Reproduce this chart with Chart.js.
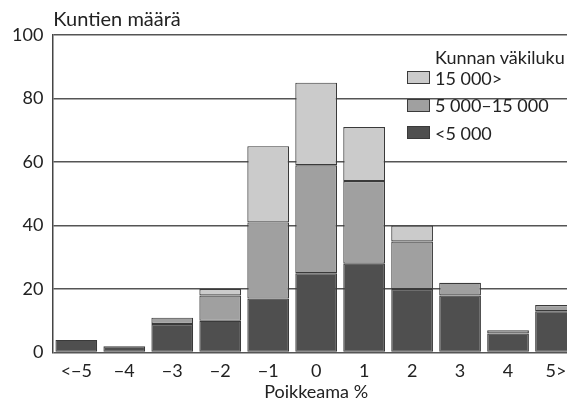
<!DOCTYPE html>
<html>
<head>
<meta charset="utf-8">
<script src="https://cdn.jsdelivr.net/npm/chart.js@4"></script>
<style>
  body { margin: 0; overflow: hidden; background: #fff; font-family: Lato, sans-serif; }
  #wrap { position: relative; width: 580px; height: 402px; }
  #legend { position: absolute; left: 407px; top: 47px; color: #222; font-size: 18px; }
  #legend .title { margin-left: 28px; height: 17px; line-height: 20px; }
  #legend .item { display: flex; align-items: center; height: 27.5px; }
  #legend .box { width: 21px; height: 11px; border: 1px solid #3a3a3a; margin-right: 5px; }
</style>
</head>
<body>
<div id="wrap">
  <canvas id="myChart"></canvas>
  <div id="legend"></div>
</div>
<script>
const categories = ['<\u22125', '\u22124', '\u22123', '\u22122', '\u22121', '0', '1', '2', '3', '4', '5>'];
const under5000 = [4, 2, 9, 10, 17, 25, 28, 20, 18, 6, 13];
const from5000to15000 = [0, 0, 2, 8, 24, 34, 26, 15, 4, 1, 2];
const over15000 = [0, 0, 0, 2, 24, 26, 17, 5, 0, 0, 0];
const yTicks = [0, 20, 40, 60, 80, 100];

const seriesNames = ['<5 000', '5 000\u201315 000', '15 000>'];
const seriesColors = ['#4f4f4f', '#a0a0a0', '#cbcbcb'];

const ink = '#222222';
const font = { family: 'Lato', size: 18 };

// y axis caption drawn above the plot, left aligned to the axis
const yCaption = {
    id: 'yCaption',
    afterDraw(chart) {
        const c = chart.ctx;
        c.save();
        c.fillStyle = ink;
        c.font = '20px Lato';
        c.textBaseline = 'alphabetic';
        c.fillText('Kuntien m\u00e4\u00e4r\u00e4', chart.chartArea.left + 1, chart.chartArea.top - 9);
        c.restore();
    }
};

const datasets = [under5000, from5000to15000, over15000].map((values, i) => ({
    label: seriesNames[i],
    data: values,
    backgroundColor: seriesColors[i],
    borderColor: '#3a3a3a',
    borderWidth: 1.2,
    borderSkipped: false,
    categoryPercentage: 1,
    barPercentage: 0.87
}));

new Chart(document.getElementById('myChart'), {
    type: 'bar',
    data: { labels: categories, datasets: datasets },
    options: {
        responsive: true,
        maintainAspectRatio: false,
        animation: false,
        layout: { padding: { top: 35, left: 3, right: 0, bottom: 0 } },
        plugins: {
            legend: { display: false },
            tooltip: { enabled: false }
        },
        scales: {
            x: {
                stacked: true,
                grid: { display: false },
                border: { display: false },
                ticks: { color: ink, font: font, padding: 0, maxRotation: 0 },
                title: { display: true, text: 'Poikkeama %', color: ink, font: { family: 'Lato', size: 18, lineHeight: 1.1 }, padding: { top: 0, bottom: 0 } }
            },
            y: {
                stacked: true,
                min: 0,
                max: 100,
                afterBuildTicks(scale) { scale.ticks = yTicks.map(v => ({ value: v })); },
                grid: { color: '#555555', lineWidth: 1.5, drawTicks: false },
                border: { display: true, color: '#444444', width: 1.5 },
                ticks: { color: ink, font: font, padding: 9 }
            }
        }
    },
    plugins: [yCaption]
});

// legend, top item first
const legend = document.getElementById('legend');
legend.innerHTML = '<div class="title">Kunnan v\u00e4kiluku</div>';
for (let i = seriesNames.length - 1; i >= 0; i--) {
    legend.innerHTML += '<div class="item"><span class="box" style="background:' + seriesColors[i] + '"></span>' + seriesNames[i] + '</div>';
}
</script>
</body>
</html>
